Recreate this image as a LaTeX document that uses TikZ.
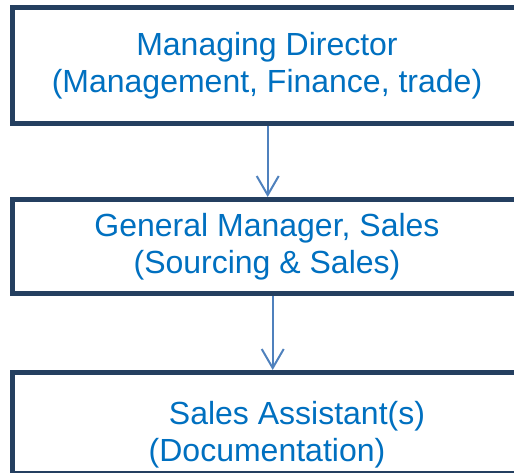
\documentclass[tikz,border=0pt]{standalone}
\usepackage{xcolor}
\usepackage{fontspec}
\setmainfont{Liberation Sans}
\definecolor{boxnavy}{HTML}{243F60}
\definecolor{textblue}{HTML}{0070C0}
\definecolor{arrowblue}{HTML}{4F81BD}
\usetikzlibrary{arrows.meta}

\begin{document}
\begin{tikzpicture}[x=1bp,y=-1bp,
        rolebox/.style={rectangle,draw=boxnavy,fill=white,line width=5bp,minimum width=509bp,text=textblue,align=center,font=\fontsize{32bp}{37bp}\selectfont},
        link/.style={-{Straight Barb[length=19bp,width=22bp,line width=2bp]},draw=arrowblue,line width=2bp}]
        \useasboundingbox (0,0) rectangle (514,473);
        \node[rolebox,minimum height=116bp] (md) at (267,65.5) {Managing Director\\(Management, Finance, trade)};
        \node[rolebox,minimum height=94bp] (gm) at (267,246.5) {General Manager, Sales\\(Sourcing \& Sales)};
        \node[rolebox,minimum height=101bp,text height=76bp,text depth=0pt] (sa) at (267,423) {\hspace*{60bp}Sales Assistant(s)\\(Documentation)};
        \draw[link] ([xshift=0.7bp]md.south) -- ([xshift=0.7bp]gm.north);
        \draw[link] ([xshift=5.7bp]gm.south) -- ([xshift=5.7bp]sa.north);
    \end{tikzpicture}
\end{document}
